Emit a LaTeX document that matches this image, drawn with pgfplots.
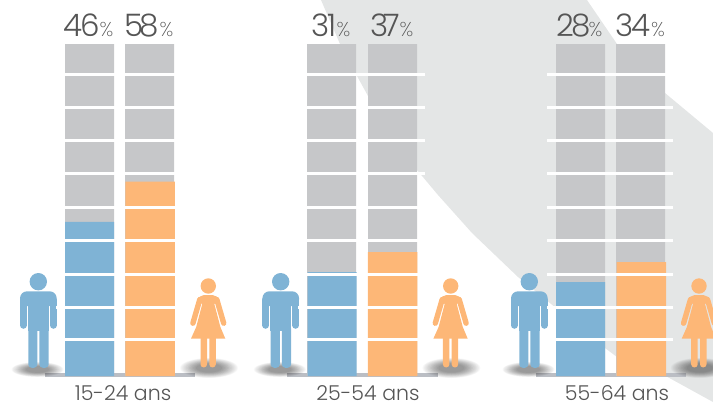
\documentclass[border=0pt]{standalone}
\usepackage{pgfplots}
\pgfplotsset{compat=1.18}
\usepackage{fontspec}
\setmainfont{Poppins}[UprightFont=* Light]
\newfontfamily\pctfont{Poppins}[UprightFont=* ExtraLight]
\definecolor{bggrey}{HTML}{E4E6E6}
\definecolor{bargrey}{HTML}{C6C7C9}
\definecolor{manblue}{HTML}{7FB3D5}
\definecolor{womanor}{HTML}{FDB777}
\definecolor{basegrey}{HTML}{BBBEC4}
\definecolor{txt}{HTML}{555555}
\newcommand{\shadow}[4]{% cx cy rx ry
  \pgfplotsinvokeforeach{1.0,0.97,0.94,0.91,0.88,0.85,0.82,0.79}{
    \fill[black!80,opacity=0.03] (axis cs:#1,#2) ellipse [x radius=##1*#3pt,y radius=##1*#4pt];
  }
  \pgfplotsinvokeforeach{0.75,0.7,0.65,0.6,0.55,0.5,0.45}{
    \fill[black!80,opacity=0.06] (axis cs:#1,#2) ellipse [x radius=##1*#3pt,y radius=##1*#4pt];
  }}
\newcommand{\man}[1]{% x offset
  \begin{scope}[shift={(axis cs:#1,0)},x=1pt,y=-1pt,manblue]
    \fill (38.3,281.7) circle (8.7);
    \fill[rounded corners=7pt] (20,306) -- (20,291.3) -- (56.7,291.3) -- (56.7,306) -- cycle;
    \draw[line width=6.7pt,line cap=round] (23.35,300) -- (23.35,325.4);
    \draw[line width=6.7pt,line cap=round] (53.35,300) -- (53.35,325.4);
    \fill (28,298) rectangle (49,331);
    \fill[rounded corners=3.5pt] (28.3,367.8) -- (28.3,325) -- (37.4,325) -- (37.4,367.8) -- cycle;
    \fill[rounded corners=3.5pt] (39.4,367.8) -- (39.4,325) -- (48.7,325) -- (48.7,367.8) -- cycle;
  \end{scope}}
\newcommand{\woman}[1]{% x offset
  \begin{scope}[shift={(axis cs:#1,0)},x=1pt,y=-1pt,womanor]
    \fill (208.3,286) circle (7.7);
    \fill[rounded corners=5pt] (197.5,304) -- (198.5,295.2) -- (218.1,295.2) -- (219.1,304) -- cycle;
    \fill (202.8,302) -- (213.8,302) -- (220.4,327) -- (225.3,338.6) -- (191,338.6) -- (196.2,327) -- cycle;
    \draw[line width=5.4pt,line cap=round,line join=round] (199.8,299.5) -- (192.9,323.2);
    \draw[line width=5.4pt,line cap=round,line join=round] (216.8,299.5) -- (223.7,323.2);
    \fill[rounded corners=3pt] (200.5,367.4) -- (200.5,335) -- (207,335) -- (207,367.4) -- cycle;
    \fill[rounded corners=3pt] (209.3,367.4) -- (209.3,335) -- (215.8,335) -- (215.8,367.4) -- cycle;
  \end{scope}}
\newcommand{\pct}[3]{% x digits-width digits
  \node[anchor=base west,txt,inner sep=0pt] at (axis cs:#1,36) {\makebox[#2pt][l]{\fontsize{31}{31}\selectfont #3}\fontsize{20}{20}\selectfont\pctfont\%};}
\begin{document}
\begin{tikzpicture}
% decoration layer: pixel coordinates of the picture
\begin{axis}[name=deco,hide axis,scale only axis,width=713pt,height=402pt,
  xmin=0,xmax=713,ymin=0,ymax=402,y dir=reverse,clip=true]
\addplot[draw=none,fill=bggrey] coordinates {(321,0)(340,44)(357,76)(368,96)(417,170)(438,195)(472,233)(518,277)(605,348)(617,357)(665.7,376)(713,402)(713,133)(665,93)(617,44)(587,0)};
\addplot[draw=none,fill=basegrey] coordinates {(44.7,373.3)(195,373.3)(195,376.7)(44.7,376.7)};
\addplot[draw=none,fill=basegrey] coordinates {(287,373.3)(437.5,373.3)(437.5,376.7)(287,376.7)};
\addplot[draw=none,fill=basegrey] coordinates {(535.7,373.3)(686,373.3)(686,376.7)(535.7,376.7)};
\shadow{37.5}{369.5}{26}{7.5}
\shadow{209}{368}{29}{10}
\shadow{279.9}{369.5}{26}{7.5}
\shadow{451.4}{368}{29}{10}
\shadow{528.5}{369.5}{26}{7.5}
\shadow{699.7}{368}{29}{10}
\man{0}\man{242.4}\man{491}
\woman{0}\woman{242.4}\woman{490.7}
\pct{63.5}{36}{4\kern-2.5pt 6}
\pct{124}{35.5}{5\kern-3.5pt 8}
\pct{311}{25.5}{3\kern-1.5pt 1}
\pct{370}{29.5}{3\kern-4.5pt 7}
\pct{556.5}{32}{2\kern-2.5pt 8}
\pct{615}{36}{3\kern-2pt 4}
\node[anchor=base,txt,inner sep=0pt] at (axis cs:123,400) {\fontsize{20.5}{20.5}\selectfont 15-24 ans};
\node[anchor=base,txt,inner sep=0pt] at (axis cs:368,400) {\fontsize{20.5}{20.5}\selectfont 25-54 ans};
\node[anchor=base,txt,inner sep=0pt] at (axis cs:617,400) {\fontsize{20.5}{20.5}\selectfont 55-64 ans};
\end{axis}
% data layer: y is the percentage, 3.35 px per point
\begin{axis}[at={(deco.south west)},anchor=south west,hide axis,scale only axis,width=713pt,height=402pt,
  xmin=0,xmax=713,ymin=-7.761,ymax=112.239,clip=false]
\addplot[ybar,bar width=49pt,bar shift=0pt,draw=none,fill=bargrey] coordinates {(89.5,99.1)(149.5,99.1)(331.5,99.1)(392.5,99.1)(580.5,99.1)(640.5,99.1)};
\addplot[ybar,bar width=49pt,bar shift=0pt,draw=none,fill=manblue] coordinates {(89.5,46)(332.2,31)(580.5,28)};
\addplot[ybar,bar width=49.5pt,bar shift=0pt,draw=none,fill=womanor] coordinates {(150.2,58)(392.5,37)(641.3,34)};
\pgfplotsinvokeforeach{90.06,80.2,70.2,60.4,50.2,40.4,30.2,20.5,11}{
  \addplot[white,line width=2.7pt] coordinates {(56,#1)(182,#1)};
  \addplot[white,line width=2.7pt] coordinates {(298,#1)(424.5,#1)};
  \addplot[white,line width=2.7pt] coordinates {(547,#1)(673,#1)};
}
\end{axis}
\pgfresetboundingbox
\path[use as bounding box] (0,0) rectangle (713pt,402pt);
\end{tikzpicture}
\end{document}
